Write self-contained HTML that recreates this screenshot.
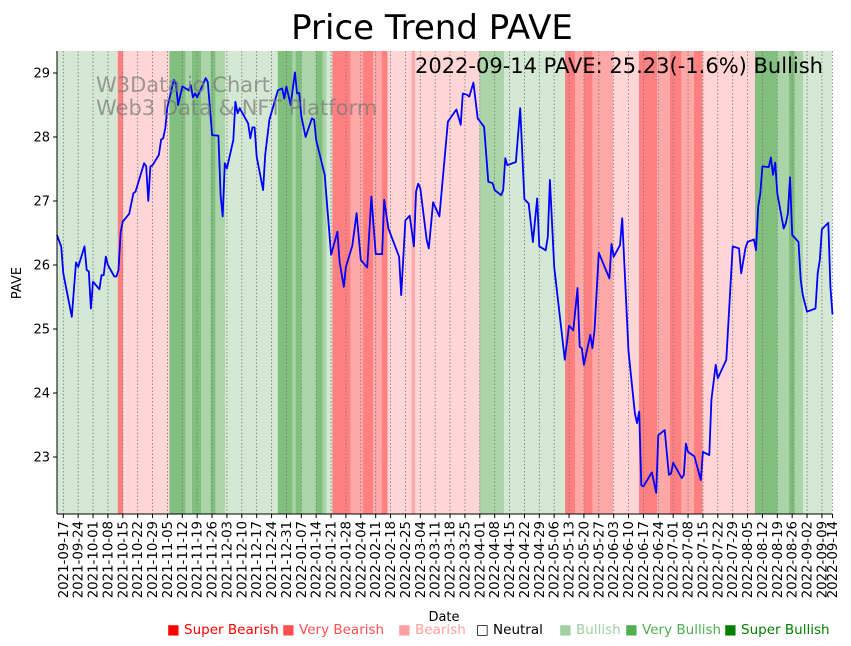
<!DOCTYPE html>
<html><head><meta charset="utf-8"><style>
body{margin:0;background:#fff;width:851px;height:646px;overflow:hidden;font-family:"DejaVu Sans","Liberation Sans",sans-serif}
svg{display:block;font-family:"DejaVu Sans","Liberation Sans",sans-serif}
</style></head><body>
<svg id="chart" width="851" height="646" xmlns="http://www.w3.org/2000/svg">
<g id="bands"></g>
<g id="grid"></g>
<g id="series"></g>
<g id="axes"></g>
<text x="432" y="39" text-anchor="middle" font-size="34" fill="#000">Price Trend PAVE</text>
<text x="96" y="92" font-size="21" fill="rgba(120,120,120,0.7)">W3Data.io Chart</text>
<text x="96" y="115" font-size="21" fill="rgba(120,120,120,0.7)">Web3 Data &amp; NFT Platform</text>
<text x="823" y="73" text-anchor="end" font-size="21" fill="#000">2022-09-14 PAVE: 25.23(-1.6%) Bullish</text>
<text transform="translate(21,283) rotate(-90)" text-anchor="middle" font-size="13">PAVE</text>
<text x="444" y="621" text-anchor="middle" font-size="13">Date</text>
<g font-size="13.5">
<text x="167" y="634" fill="#ff0000">■ Super Bearish</text>
<text x="282" y="634" fill="#ff5050">■ Very Bearish</text>
<text x="398" y="634" fill="#ffa0a0">■ Bearish</text>
<text x="476" y="634" fill="#000">□ Neutral</text>
<text x="559" y="634" fill="#a0d0a0">■ Bullish</text>
<text x="625" y="634" fill="#50b050">■ Very Bullish</text>
<text x="724" y="634" fill="#008000">■ Super Bullish</text>
</g>
</svg>
<script>
// day offsets from 2021-09-17
const days=[-3,-1,0,4,6,7,10,11,12,13,14,17,18,19,20,21,24,25,26,27,28,31,33,34,38,39,40,41,42,45,46,47,48,49,52,53,54,56,59,60,61,62,63,67,68,70,73,74,75,76,77,80,81,82,83,87,88,89,90,91,94,95,97,101,103,104,105,107,109,110,111,112,114,117,118,119,123,126,129,130,132,133,136,138,140,143,145,147,150,151,153,158,159,161,163,165,166,167,168,171,172,174,177,181,185,187,188,190,191,193,195,198,200,202,203,206,207,208,209,213,215,217,219,221,223,224,227,228,229,231,236,238,240,242,243,244,245,248,249,250,252,257,258,259,262,263,266,269,270,271,272,273,277,279,280,283,285,286,287,291,292,293,294,297,300,301,304,305,307,308,312,315,318,319,321,322,325,326,327,328,329,332,333,334,335,336,339,340,341,342,343,346,347,348,350,354,355,356,357,360,361,362];
const prices=[26.47,26.29,25.87,25.19,26.04,25.97,26.29,25.92,25.90,25.32,25.74,25.62,25.84,25.84,26.13,26.0,25.82,25.82,25.92,26.52,26.68,26.80,27.12,27.15,27.59,27.54,27.0,27.54,27.56,27.72,27.96,27.98,28.14,28.47,28.89,28.84,28.5,28.79,28.73,28.81,28.62,28.68,28.62,28.92,28.86,28.03,28.02,27.09,26.76,27.59,27.51,27.95,28.55,28.37,28.45,28.21,27.98,28.15,28.15,27.69,27.17,27.72,28.27,28.73,28.76,28.60,28.79,28.50,29.01,28.68,28.69,28.33,28.0,28.29,28.27,27.95,27.41,26.16,26.52,26.05,25.66,25.97,26.30,26.81,26.08,25.96,27.07,26.17,26.17,27.02,26.57,26.13,25.53,26.70,26.77,26.29,27.15,27.27,27.20,26.39,26.26,26.98,26.76,28.24,28.43,28.19,28.68,28.66,28.63,28.85,28.29,28.16,27.30,27.28,27.17,27.09,27.17,27.67,27.56,27.61,28.45,27.03,26.96,26.36,27.04,26.29,26.23,26.44,27.33,25.97,24.52,25.05,24.98,25.64,24.72,24.70,24.44,24.91,24.70,24.98,26.19,25.79,26.33,26.13,26.31,26.73,24.65,23.68,23.53,23.71,22.56,22.54,22.76,22.44,23.34,23.42,22.72,22.74,22.91,22.67,22.72,23.21,23.08,23.01,22.64,23.08,23.03,23.89,24.44,24.23,24.52,26.29,26.26,25.87,26.26,26.36,26.40,26.23,26.91,27.12,27.54,27.53,27.68,27.41,27.60,27.12,26.57,26.65,26.81,27.37,26.47,26.36,25.77,25.53,25.27,25.32,25.87,26.08,26.56,26.66,25.66,25.23];
// sentiment bands: start day and level (-3..3)
const bandStarts=[-3,25.6,28.2,49.9,57.6,60.5,64.8,69.3,71.7,76.1,100.9,107.9,109.3,112.2,118.9,122.0,123.9,126.6,135.2,140.9,145.9,149.8,152.6,163.9,165.5,195.8,207.4,236.1,240.8,245.0,249.1,258.8,270.9,279.5,285.5,291,296.8,300.9,325.5,336.2,341.5,344.3,348.2];
const bandLevels=[1,-3,-1,3,2,3,2,3,2,1,3,2,3,2,3,2,1,-3,-2,-3,-2,-3,-1,-2,-1,2,1,-3,-2,-3,-2,-1,-3,-2,-3,-2,-3,-1,3,2,3,2,1];
const yTicks=[23,24,25,26,27,28,29];
const dayEnd=362.6;

const NS='http://www.w3.org/2000/svg';
const X0=57,X1=832,Y0=51,Y1=514;
const xs=d=>63.3+d*2.125;
const ys=v=>457-(v-23)*64;
function mk(tag,attrs,parent){const e=document.createElementNS(NS,tag);for(const k in attrs)e.setAttribute(k,attrs[k]);parent.appendChild(e);return e;}
const colors={'-3':'#ff8080','-2':'#ffa8a8','-1':'#ffd5d5','1':'#d5e8d3','2':'#abd5a8','3':'#80bf7e'};
const gB=document.getElementById('bands');
bandStarts.forEach((s,i)=>{
  const e=i+1<bandStarts.length?bandStarts[i+1]:dayEnd;
  const a=Math.max(X0,xs(s)),b=Math.min(X1,xs(e));
  const r=mk('rect',{x:a,y:Y0,width:Math.max(0,b-a),height:Y1-Y0,fill:colors[bandLevels[i]]},gB);
  
  
});
const gG=document.getElementById('grid');
const gA=document.getElementById('axes');
const base=new Date(Date.UTC(2021,8,17));
const tickDays=[];for(let d=0;d<=357;d+=7)tickDays.push(d);tickDays.push(362);
const fmt=d=>{const t=new Date(base.getTime()+d*864e5);return t.toISOString().slice(0,10);};
tickDays.forEach(d=>{
  const x=xs(d);
  const l=mk('line',{x1:x,x2:x,y1:Y0,y2:Y1,stroke:'#777','stroke-width':0.8,'stroke-dasharray':'1.5,2'},gG);
  
  
  mk('line',{x1:x,x2:x,y1:Y1,y2:Y1+4,stroke:'#000','stroke-width':1},gA);
  const t=mk('text',{transform:`translate(${x+4.5},${Y1+7}) rotate(-90)`,'text-anchor':'end','font-size':13.3},gA);
  t.textContent=fmt(d);
  
  
});
yTicks.forEach(v=>{
  const y=ys(v);
  mk('line',{x1:X0-4,x2:X0,y1:y,y2:y,stroke:'#000'},gA);
  const t=mk('text',{x:X0-7,y:y+4.5,'text-anchor':'end','font-size':13},gA);
  t.textContent=v;
  
  
});
mk('line',{x1:X0,x2:X0,y1:Y0,y2:Y1,stroke:'#000'},gA);
mk('line',{x1:X0,x2:X1,y1:Y1,y2:Y1,stroke:'#000'},gA);
const pts=days.map((d,i)=>xs(d).toFixed(1)+','+ys(prices[i]).toFixed(1)).join(' ');
const pl=mk('polyline',{points:pts,fill:'none',stroke:'#0000ff','stroke-width':1.8,'stroke-linejoin':'round'},document.getElementById('series'));


</script>
</body></html>
